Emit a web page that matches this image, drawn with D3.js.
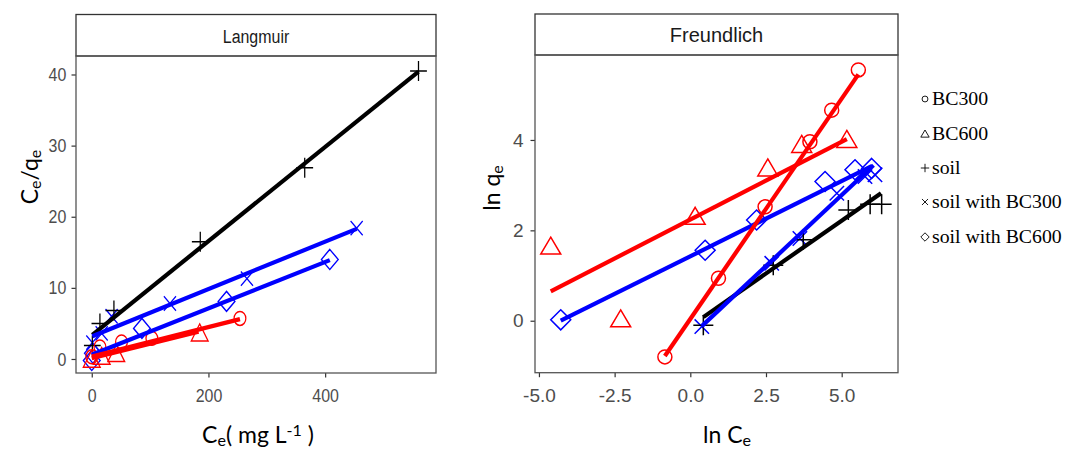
<!DOCTYPE html>
<html>
<head>
<meta charset="utf-8">
<script src="https://cdn.jsdelivr.net/npm/d3@7"></script>
<style>
  body { margin: 0; background: #fff; }
  svg { display: block; }
</style>
</head>
<body>
<svg id="chart" width="1067" height="452"></svg>
<script>
// ---- series definitions ----
const seriesNames  = ["BC300", "BC600", "soil", "soil with BC300", "soil with BC600"];
const seriesColors = ["#ff0000", "#ff0000", "#000000", "#0000ff", "#0000ff"];
const seriesShapes = ["circle", "triangle", "plus", "cross", "diamond"];

// ---- Langmuir: Ce (mg/L) against Ce/qe ----
const langCe = [
  [0, 14, 51, 103, 254],
  [0, 17, 42, 185],
  [1, 14, 38, 186, 365, 560],
  [1, 17, 34, 134, 266, 454],
  [0, 2, 86, 231, 408]
];
const langCeQe = [
  [0.3, 1.7, 2.4, 2.9, 5.7],
  [-0.1, 0.3, 0.7, 3.6],
  [1.9, 5.0, 6.8, 16.5, 26.9, 40.5],
  [2.3, 3.6, 6.0, 7.8, 11.3, 18.4],
  [-0.2, 0.8, 4.3, 8.1, 14.0]
];
// linear fits: [x start, y start, x end, y end]
const langFit = [
  [0, 0.35, 254, 5.6],
  [0, 0.1, 183, 3.85],
  [1, 3.4, 560, 40.4],
  [1, 3.2, 454, 18.3],
  [0, 0.6, 408, 13.9]
];

// ---- Freundlich: ln Ce against ln qe ----
const freLnCe = [
  [-0.84, 0.93, 2.47, 3.95, 4.67, 5.55],
  [-4.61, -2.30, 0.16, 2.56, 3.68, 5.17],
  [0.43, 2.74, 3.73, 5.22, 5.94, 6.32],
  [0.38, 2.69, 3.62, 4.84, 5.77, 6.10],
  [-4.28, 0.49, 2.19, 4.45, 5.44, 5.99]
];
const freLnQe = [
  [-0.80, 0.94, 2.52, 3.96, 4.66, 5.55],
  [1.64, 0.03, 2.30, 3.37, 3.89, 4.00],
  [-0.10, 1.23, 1.79, 2.45, 2.58, 2.58],
  [-0.13, 1.27, 1.82, 2.82, 3.19, 3.23],
  [0.02, 1.56, 2.23, 3.08, 3.34, 3.37]
];
const freFit = [
  [-0.84, -0.78, 5.55, 5.45],
  [-4.61, 0.65, 5.17, 4.02],
  [0.43, 0.08, 6.30, 2.82],
  [0.38, -0.12, 6.05, 3.44],
  [-4.28, 0.0, 5.99, 3.42]
];

// ---- tick values ----
const langXTicks = [0, 200, 400];
const langYTicks = [0, 10, 20, 30, 40];
const freXTicks = [-5, -2.5, 0, 2.5, 5];
const freYTicks = [0, 2, 4];

const svg = d3.select("#chart");

// marker outline paths, s = half size
function markerPath(shape, s) {
  switch (shape) {
    case "circle": {
      const r = s * 0.7;
      return `M${-r},0A${r},${r} 0 1,0 ${r},0A${r},${r} 0 1,0 ${-r},0Z`;
    }
    case "triangle":
      return `M0,${-s * 0.95}L${s},${s * 0.75}L${-s},${s * 0.75}Z`;
    case "plus":
      return `M${-s},0H${s}M0,${-s}V${s}`;
    case "cross": {
      const c = s * 0.72;
      return `M${-c},${-c}L${c},${c}M${-c},${c}L${c},${-c}`;
    }
    case "diamond":
      return `M0,${-s}L${s},0L0,${s}L${-s},0Z`;
  }
}

function drawPanel(opt) {
  const { x0, x1, y0, y1, stripTop, xDomain, yDomain, xTicks, yTicks,
          xFmt, squeeze, title, titleSize, xs, ys, fits, markerSize } = opt;
  const x = d3.scaleLinear().domain(xDomain).range([x0, x1]);
  const y = d3.scaleLinear().domain(yDomain).range([y1, y0]);
  const g = svg.append("g");

  // strip
  g.append("rect")
    .attr("x", x0).attr("y", stripTop)
    .attr("width", x1 - x0).attr("height", y0 - stripTop)
    .attr("fill", "#fff").attr("stroke", "#333").attr("stroke-width", 1.3);
  g.append("g")
    .attr("transform", `translate(${(x0 + x1) / 2},${y0 - 13}) scale(${squeeze},1)`)
    .append("text")
    .attr("text-anchor", "middle")
    .attr("font-family", "Liberation Sans, Arial, sans-serif")
    .attr("font-size", titleSize)
    .attr("fill", "#1a1a1a")
    .text(title);

  // plotting area clip
  const clipId = "clip-" + title;
  g.append("clipPath").attr("id", clipId)
    .append("rect").attr("x", x0).attr("y", y0).attr("width", x1 - x0).attr("height", y1 - y0);

  // axes
  const styleAxis = (ax) => {
    ax.select(".domain").remove();
    ax.selectAll(".tick line").attr("stroke", "#333").attr("stroke-width", 1.2);
    ax.selectAll(".tick text")
      .attr("fill", "#4d4d4d")
      .attr("font-family", "Liberation Sans, Arial, sans-serif")
      .attr("font-size", 19);
  };
  const xAxis = g.append("g")
    .attr("transform", `translate(0,${y1})`)
    .call(d3.axisBottom(x).tickValues(xTicks).tickSize(4.5).tickPadding(11).tickFormat(xFmt));
  styleAxis(xAxis);
  xAxis.selectAll(".tick text").attr("transform", `scale(${squeeze},1)`);
  const yAxis = g.append("g")
    .attr("transform", `translate(${x0},0)`)
    .call(d3.axisLeft(y).tickValues(yTicks).tickSize(4.5).tickPadding(7).tickFormat(d => String(d)));
  styleAxis(yAxis);
  yAxis.selectAll(".tick text").attr("transform", `scale(${squeeze},1)`);

  const plot = g.append("g").attr("clip-path", `url(#${clipId})`);

  // points
  const drawOrder = [4, 3, 2, 1, 0];
  drawOrder.forEach(i => {
    xs[i].forEach((v, j) => {
      plot.append("path")
        .attr("d", markerPath(seriesShapes[i], markerSize))
        .attr("transform", `translate(${x(v)},${y(ys[i][j])}) scale(${squeeze},1)`)
        .attr("fill", "none")
        .attr("stroke", seriesColors[i])
        .attr("stroke-width", 1.5);
    });
  });

  // fitted lines
  const lineOrder = [2, 4, 3, 1, 0];
  lineOrder.forEach(i => {
    const f = fits[i];
    plot.append("line")
      .attr("x1", x(f[0])).attr("y1", y(f[1]))
      .attr("x2", x(f[2])).attr("y2", y(f[3]))
      .attr("stroke", seriesColors[i])
      .attr("stroke-width", 4.2)
      .attr("stroke-linecap", "butt");
  });

  // panel border
  g.append("rect")
    .attr("x", x0).attr("y", y0)
    .attr("width", x1 - x0).attr("height", y1 - y0)
    .attr("fill", "none").attr("stroke", "#555").attr("stroke-width", 1.3);
}

drawPanel({
  x0: 76, x1: 436, y0: 56, y1: 373, stripTop: 14.5,
  xDomain: [-27, 590], yDomain: [-1.97, 42.6],
  xTicks: langXTicks, yTicks: langYTicks, xFmt: d => String(d),
  squeeze: 0.84, title: "Langmuir", titleSize: 19,
  xs: langCe, ys: langCeQe, fits: langFit, markerSize: 10
});

drawPanel({
  x0: 535, x1: 898, y0: 55, y1: 372.7, stripTop: 14,
  xDomain: [-5.13, 6.86], yDomain: [-1.15, 5.88],
  xTicks: freXTicks, yTicks: freYTicks, xFmt: d => d.toFixed(1),
  squeeze: 1, title: "Freundlich", titleSize: 20,
  xs: freLnCe, ys: freLnQe, fits: freFit, markerSize: 10
});

// ---- axis titles ----
const titleFont = "Lato, 'Open Sans', sans-serif";
function subTitle(parent, parts, size) {
  const t = parent.append("text")
    .attr("font-family", titleFont)
    .attr("font-size", size)
    .attr("fill", "#000");
  parts.forEach(p => {
    const sp = t.append("tspan").text(p.t);
    if (p.sub) sp.attr("baseline-shift", "-20%").attr("font-size", size * 0.7);
    if (p.sup) sp.attr("baseline-shift", "45%").attr("font-size", size * 0.7);
  });
  return t;
}

subTitle(svg.append("g").attr("transform", "translate(38,177) rotate(-90)"),
  [{ t: "C" }, { t: "e", sub: true }, { t: "/q" }, { t: "e", sub: true }], 23)
  .attr("text-anchor", "middle");

subTitle(svg.append("g").attr("transform", "translate(500,188) rotate(-90)"),
  [{ t: "ln q" }, { t: "e", sub: true }], 23)
  .attr("text-anchor", "middle");

subTitle(svg.append("g").attr("transform", "translate(258,443)"),
  [{ t: "C" }, { t: "e", sub: true }, { t: "( mg L" }, { t: "-1", sup: true }, { t: " )" }], 23)
  .attr("text-anchor", "middle");

subTitle(svg.append("g").attr("transform", "translate(727,443)"),
  [{ t: "ln C" }, { t: "e", sub: true }], 23)
  .attr("text-anchor", "middle");

// ---- legend ----
const legendBaselines = [105, 140, 174, 208, 243];
const legend = svg.append("g");
seriesNames.forEach((name, i) => {
  const by = legendBaselines[i];
  legend.append("path")
    .attr("d", markerPath(seriesShapes[i], 4.2))
    .attr("transform", `translate(925,${by - 6})`)
    .attr("fill", "none")
    .attr("stroke", "#000")
    .attr("stroke-width", 0.9);
  legend.append("g")
    .attr("transform", `translate(932,${by}) scale(1.1,1)`)
    .append("text")
    .attr("font-family", "Liberation Serif, 'Times New Roman', serif")
    .attr("font-size", 18)
    .attr("fill", "#000")
    .text(name);
});
</script>
</body>
</html>
